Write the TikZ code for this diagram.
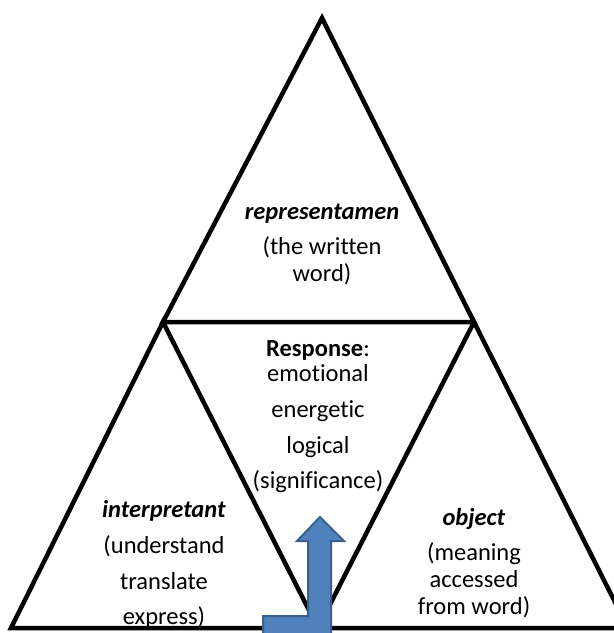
\documentclass[tikz,border=0pt]{standalone}
\usepackage{fontspec}
\setmainfont{Carlito}[Ligatures=NoCommon]
\usetikzlibrary{positioning}
\definecolor{arrowFill}{RGB}{79,129,189}
\definecolor{arrowEdge}{RGB}{58,95,140}

\begin{document}
\begin{tikzpicture}[x=1pt,y=-1pt,
      font=\fontsize{24.5}{27}\selectfont,
      tri/.style={draw=black,line width=4.5pt,line join=miter},
      lbl/.style={align=center,inner sep=0pt},
      bent/.style={fill=arrowFill,draw=arrowEdge,line width=2pt,line join=miter}]
    \useasboundingbox (0,0) rectangle (614,633);
    \clip (0,0) rectangle (614,633);

    \coordinate (apex) at (322,18);
    \coordinate (midL) at (163,322);
    \coordinate (midR) at (474,322);
    \coordinate (botL) at (11,628);
    \coordinate (botM) at (318,628);
    \coordinate (botR) at (628,628);

    % the three triangles, the middle one comes out between them
    \draw[tri] (apex) -- (midL) -- (midR) -- cycle;
    \draw[tri] (midL) -- (botL) -- (botM) -- cycle;
    \draw[tri] (midR) -- (botM) -- (botR) -- cycle;

    \node[lbl] (repr) at (322,244) {\textbf{\textit{representamen}}\\[8pt](the written\\word)};
    \node[lbl] (resp) at (318,417) {\textbf{Response}:\\[-2pt]emotional\\[9pt]energetic\\[9pt]logical\\[8pt](significance)};
    \node[lbl] (interp) at (164,564) {\textbf{\textit{interpretant}}\\[9pt](understand\\[9pt]translate\\[8pt]express)};
    \node[lbl] (obj) at (474,563) {\textbf{\textit{object}}\\[8pt](meaning\\accessed\\from word)};

    % bent-up arrow
    \draw[bent] (263,642) -- (263,616) -- (308,616) -- (308,541) -- (297,541)
       -- (320,517) -- (344,541) -- (331,541) -- (331,642) -- cycle;
  \end{tikzpicture}
\end{document}
